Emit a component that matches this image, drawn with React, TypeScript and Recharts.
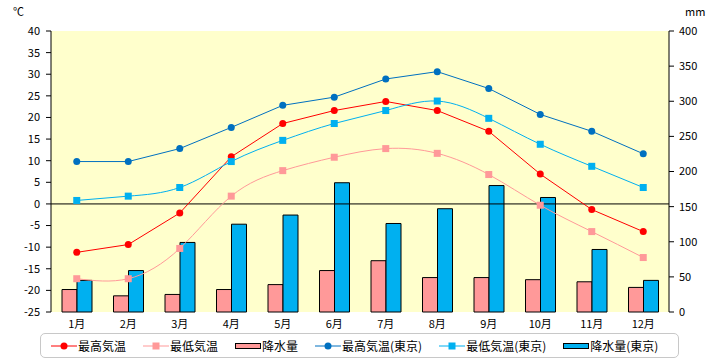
import React from 'react';
import {
  ComposedChart,
  Bar,
  Line,
  XAxis,
  YAxis,
  CartesianGrid,
  ReferenceLine,
  Legend,
} from 'recharts';

// monthly climate normals
const months = ['1月', '2月', '3月', '4月', '5月', '6月', '7月', '8月', '9月', '10月', '11月', '12月'];
const maxTemp = [-11.2, -9.4, -2.1, 10.9, 18.6, 21.6, 23.7, 21.6, 16.8, 6.9, -1.3, -6.4];
const minTemp = [-17.3, -17.3, -10.3, 1.8, 7.7, 10.8, 12.8, 11.7, 6.8, -0.3, -6.4, -12.4];
const rain = [32, 23, 25, 32, 39, 59, 73, 49, 49, 46, 43, 35];
const maxTempTokyo = [9.8, 9.8, 12.8, 17.7, 22.8, 24.7, 28.9, 30.6, 26.7, 20.7, 16.8, 11.6];
const minTempTokyo = [0.8, 1.8, 3.8, 9.8, 14.7, 18.6, 21.6, 23.8, 19.8, 13.8, 8.7, 3.8];
const rainTokyo = [45, 59, 99, 125, 138, 184, 126, 147, 180, 163, 89, 45];

const tempTicks = [-25, -20, -15, -10, -5, 0, 5, 10, 15, 20, 25, 30, 35, 40];
const rainTicks = [0, 50, 100, 150, 200, 250, 300, 350, 400];

const data = months.map((m, i) => ({
  month: m,
  maxTemp: maxTemp[i],
  minTemp: minTemp[i],
  rain: rain[i],
  maxTempTokyo: maxTempTokyo[i],
  minTempTokyo: minTempTokyo[i],
  rainTokyo: rainTokyo[i],
}));

const FONT = '"Noto Sans CJK JP", "Noto Sans", sans-serif';

const RED = '#FF0000';
const PINK = '#FF9999';
const NAVY = '#0070C0';
const SKY = '#00B0F0';

const squareDot = (color: string) => (props: any) => {
  const { cx, cy, index } = props;
  if (cx == null || cy == null) return <g key={index} />;
  return <rect key={index} x={cx - 3.5} y={cy - 3.5} width={7} height={7} fill={color} />;
};

const legendItems = [
  { label: '最高気温', kind: 'circle', color: RED },
  { label: '最低気温', kind: 'square', color: PINK },
  { label: '降水量', kind: 'bar', color: PINK },
  { label: '最高気温(東京)', kind: 'circle', color: NAVY },
  { label: '最低気温(東京)', kind: 'square', color: SKY },
  { label: '降水量(東京)', kind: 'bar', color: SKY },
];

const LegendBox = () => (
  <div
    style={{
      boxSizing: 'border-box',
      width: 639,
      height: 25,
      border: '1.5px solid #C8C8C8',
      borderRadius: 5,
      display: 'flex',
      alignItems: 'center',
      paddingLeft: 10,
      gap: 17,
      fontFamily: FONT,
      fontSize: 12,
      color: '#000',
      background: '#fff',
    }}
  >
    {legendItems.map((it) => (
      <div key={it.label} style={{ display: 'flex', alignItems: 'center' }}>
        <svg width={26} height={10} style={{ marginRight: 1 }}>
          {it.kind === 'bar' ? (
            <rect x={0.5} y={2.5} width={25} height={5} fill={it.color} stroke="#000" />
          ) : (
            <>
              <line x1={0} y1={5} x2={26} y2={5} stroke={it.color} strokeWidth={1} />
              {it.kind === 'circle' ? (
                <circle cx={13} cy={5} r={3.5} fill={it.color} />
              ) : (
                <rect x={9.5} y={1.5} width={7} height={7} fill={it.color} />
              )}
            </>
          )}
        </svg>
        <span>{it.label}</span>
      </div>
    ))}
  </div>
);

const tickStyle = { fontFamily: FONT, fontSize: 11, fill: '#000' };

export default function App() {
  return (
    <div style={{ position: 'absolute', left: 0, top: 0, width: 720, height: 360, background: '#fff' }}>
      <div style={{ position: 'absolute', left: 13, top: 3, fontFamily: FONT, fontSize: 11 }}>℃</div>
      <div style={{ position: 'absolute', left: 685, top: 3, fontFamily: FONT, fontSize: 11 }}>mm</div>
      <ComposedChart
        width={720}
        height={360}
        data={data}
        margin={{ top: 31, right: 0, bottom: 0, left: 0 }}
        barGap={0}
      >
        <CartesianGrid horizontal={false} vertical={false} fill="#FFFFCC" yAxisId="temp" />
        <XAxis
          dataKey="month"
          axisLine={false}
          tickLine={false}
          height={48}
          tick={tickStyle}
          tickMargin={2}
          interval={0}
        />
        <YAxis
          yAxisId="temp"
          orientation="left"
          width={51}
          domain={[-25, 40]}
          ticks={tempTicks}
          interval={0}
          tick={tickStyle}
          tickSize={5}
          tickMargin={6}
          axisLine={{ stroke: '#000' }}
          tickLine={{ stroke: '#000' }}
        />
        <YAxis
          yAxisId="rain"
          orientation="right"
          width={51}
          domain={[0, 400]}
          ticks={rainTicks}
          interval={0}
          tick={{ ...tickStyle, textAnchor: 'start' }}
          tickSize={5}
          tickMargin={5}
          axisLine={{ stroke: '#000' }}
          tickLine={{ stroke: '#000' }}
        />
        <Bar yAxisId="rain" dataKey="rain" name="降水量" fill={PINK} stroke="#000" strokeWidth={1} barSize={15} isAnimationActive={false} />
        <Bar yAxisId="rain" dataKey="rainTokyo" name="降水量(東京)" fill={SKY} stroke="#000" strokeWidth={1} barSize={15} isAnimationActive={false} />
        <ReferenceLine yAxisId="temp" y={0} stroke="#000" strokeWidth={1} />
        <Line yAxisId="temp" type="linear" dataKey="maxTemp" name="最高気温" stroke={RED} strokeWidth={1} dot={{ r: 3.5, fill: RED, stroke: 'none' }} isAnimationActive={false} />
        <Line yAxisId="temp" type="natural" dataKey="minTemp" name="最低気温" stroke={PINK} strokeWidth={1} dot={squareDot(PINK)} isAnimationActive={false} />
        <Line yAxisId="temp" type="linear" dataKey="maxTempTokyo" name="最高気温(東京)" stroke={NAVY} strokeWidth={1} dot={{ r: 3.5, fill: NAVY, stroke: 'none' }} isAnimationActive={false} />
        <Line yAxisId="temp" type="natural" dataKey="minTempTokyo" name="最低気温(東京)" stroke={SKY} strokeWidth={1} dot={squareDot(SKY)} isAnimationActive={false} />
        <Legend
          layout="horizontal"
          verticalAlign="middle"
          align="center"
          content={() => <LegendBox />}
          wrapperStyle={{ position: 'absolute', left: 40, top: 333, width: 639, height: 25 }}
        />
      </ComposedChart>
    </div>
  );
}
